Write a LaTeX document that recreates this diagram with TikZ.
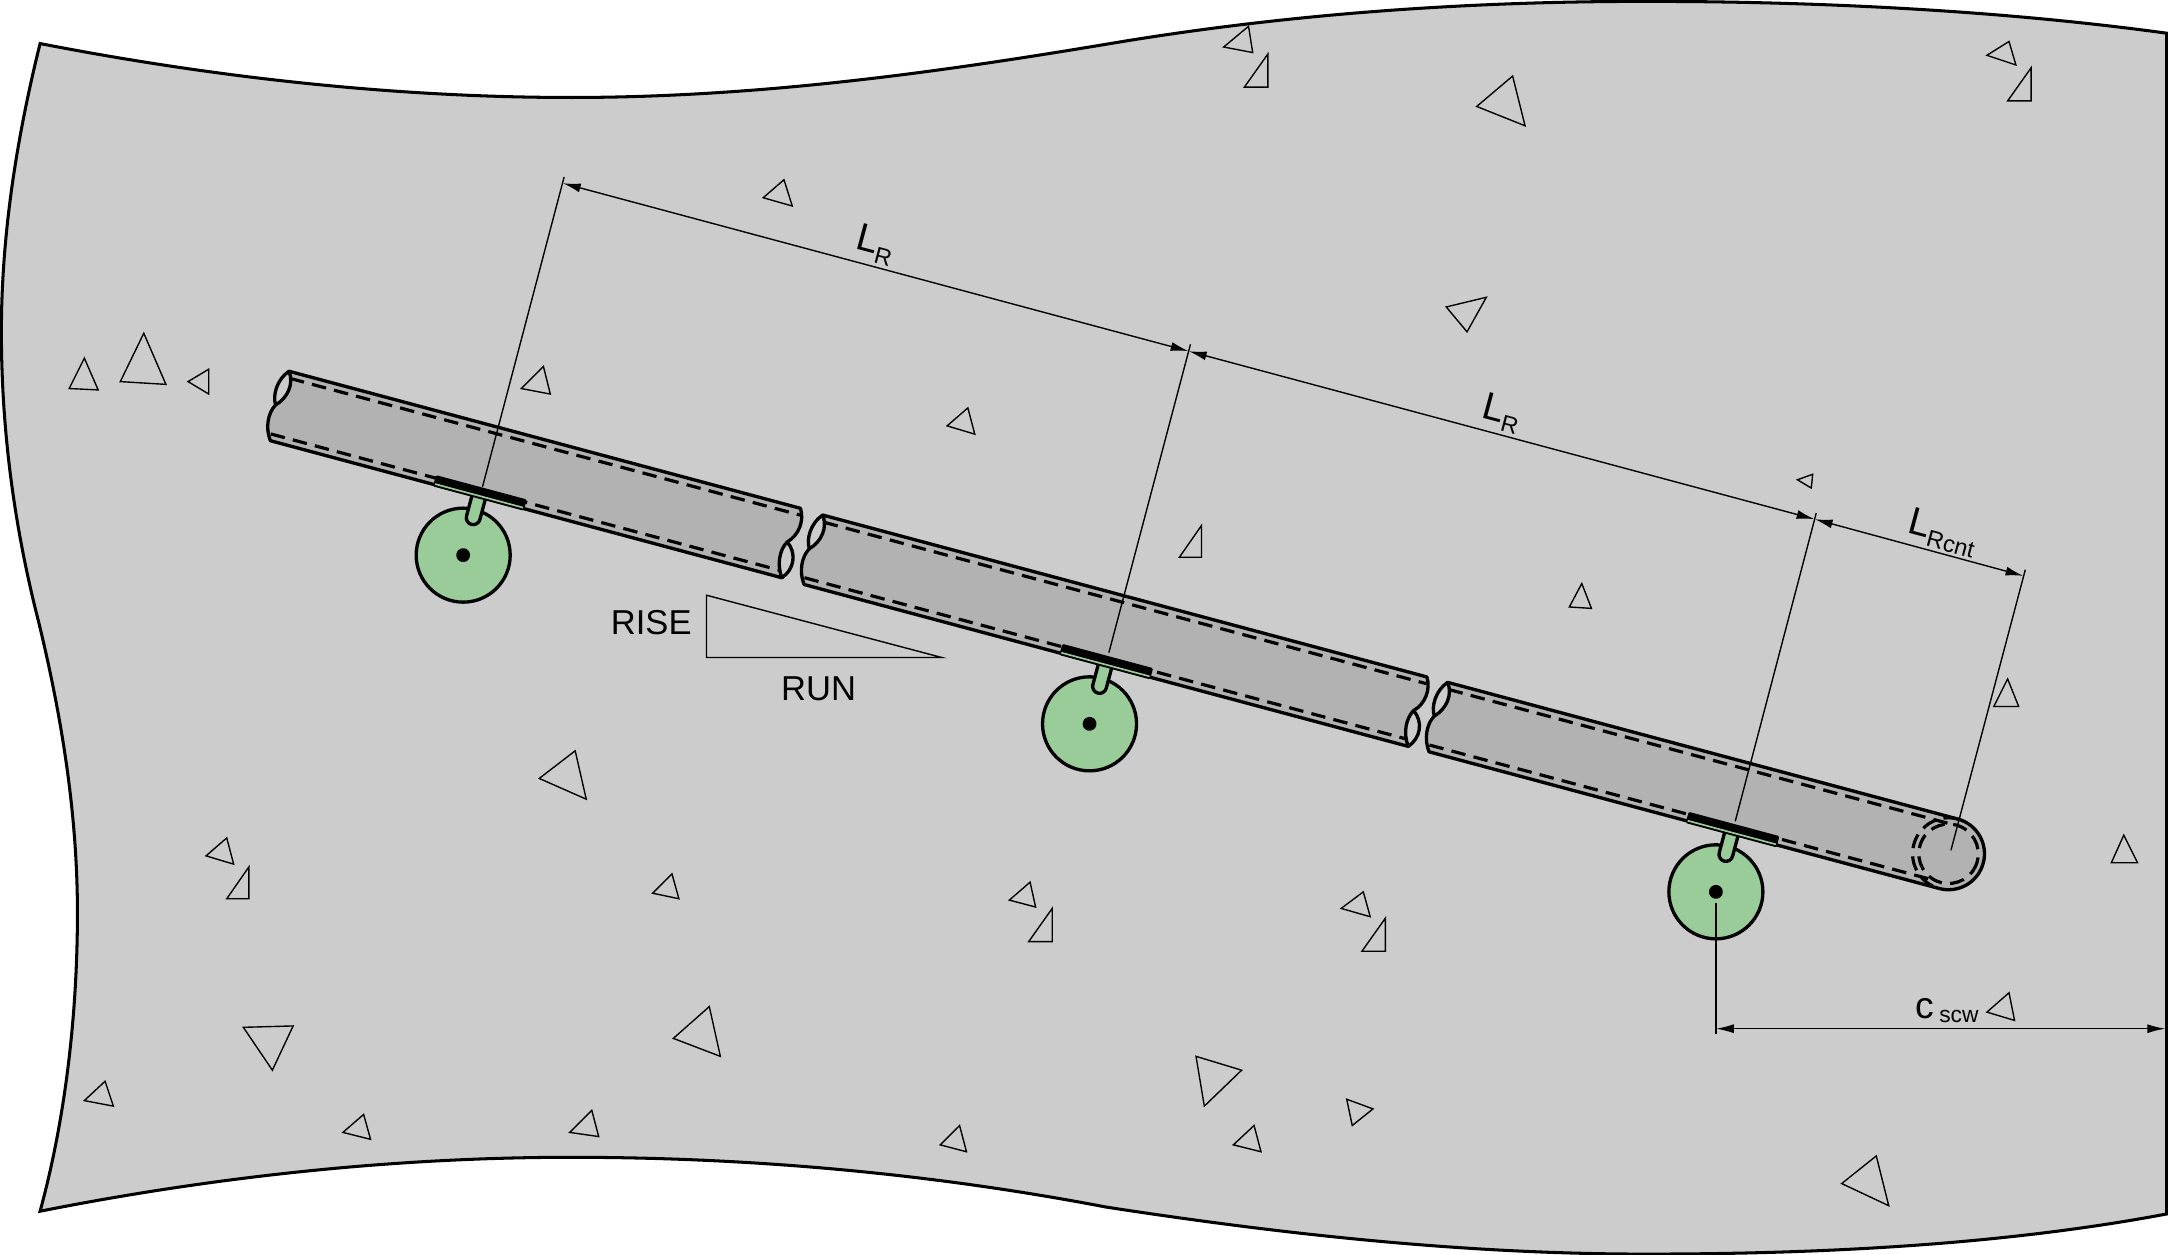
\documentclass[tikz,border=0pt]{standalone}
\usepackage{fontspec}
\setmainfont{Liberation Sans}
\usetikzlibrary{arrows.meta}
\definecolor{concrete}{HTML}{CCCCCC}
\definecolor{pipegray}{HTML}{B2B2B2}
\definecolor{anchorgreen}{HTML}{99CC99}
\newcommand{\mysub}[2]{{\fontsize{28}{28}\selectfont #1}\raisebox{-6pt}{\fontsize{17}{17}\selectfont #2}}
\newcommand{\stemanchor}[3]{%
\begin{scope}[shift={(#1,#2)},rotate=-15]
\node[anchordisc] (#3) at (0,0) {};
\fill[black] (0,0) circle[radius=5];
\draw[heavy,fill=anchorgreen,line join=round] (-5,-44) -- (-5,-28) arc[start angle=180,end angle=0,radius=5] -- (5,-44);
\fill[black,rounded corners=1pt] (-34,-50.8) rectangle (34,-42.4);
\draw[anchorgreen,line width=1.2] (-33,-44.4) -- (33,-44.4);
\end{scope}}
\newcommand{\wavepipe}[3]{%
\begin{scope}[shift={(#1,#2)},rotate=-15]
\filldraw[heavy,fill=pipegray,line join=round] (0,0) -- (#3,0)
 .. controls (#3+5,8) and (#3+4,19) .. (#3-3,26)
 .. controls (#3-7,33) and (#3-6,44) .. (#3,52) -- (0,52)
 .. controls (-6,44) and (-7,33) .. (-3,26)
 .. controls (4,19) and (6,8) .. (0,0) -- cycle;
\draw[heavy] (0,0) .. controls (-7,8) and (-7,20) .. (-3,26);
\draw[heavy] (#3,52) .. controls (#3+7,44) and (#3+6,32) .. (#3-3,26);
\draw[dashline] (2,4.8) -- (#3+1,4.8);
\draw[dashline] (-1,47.2) -- (#3-2,47.2);
\end{scope}}
\tikzset{
 heavy/.style={line width=2.4pt,black},
 thin line/.style={line width=1pt,black},
 dashline/.style={line width=2.3pt,black,dash pattern=on 10.5pt off 6pt},
 anchordisc/.style={circle,draw=black,fill=anchorgreen,line width=2.4pt,minimum size=68pt,inner sep=0pt},
 dimline/.style={line width=1pt,black,{Latex[length=13pt,width=6.5pt]}-{Latex[length=13pt,width=6.5pt]}},
 grain/.style={line width=1pt,black,line join=miter},
 lbl/.style={inner sep=0pt,font=\fontsize{25}{25}\selectfont}
}
\begin{document}
\begin{tikzpicture}[x=1pt,y=-1pt]
\path[use as bounding box,fill=white] (0,0) rectangle (1568,907.66);
% slab
\filldraw[line width=2.2pt,black,fill=concrete,line join=miter] (29,31.5)
 .. controls (160,57) and (290,70.5) .. (413,70.5)
 .. controls (550,70.5) and (680,52) .. (800,32)
 .. controls (930,10) and (1060,1) .. (1190,1)
 .. controls (1320,1) and (1450,8) .. (1567,24)
 -- (1567,878)
 .. controls (1450,900) and (1320,907) .. (1190,907)
 .. controls (1060,907) and (930,893) .. (800,873)
 .. controls (680,850) and (550,837) .. (413,837)
 .. controls (290,837) and (160,850) .. (29,876)
 .. controls (47,810) and (56,735) .. (56,660)
 .. controls (56,590) and (45,520) .. (28,450)
 .. controls (10,380) and (1,310) .. (1,240)
 .. controls (1,170) and (12,100) .. (29,31.5) -- cycle;
% aggregate
\foreach \a/\b/\c/\d/\e/\f in {
885/34/903/19/906/38, 900/63/917/63/917/39, 1068/77/1094/55/1103/91,
1437/40/1453/30/1458/47, 1452/73/1469/73/1469/49, 552/143/567/130/573/149,
1046/222/1075/215/1061/240, 50/281/71/282/61/259, 87/276/120/278/104/241,
136/276/151/267/151/285, 377/281/393/265/398/285, 685/308/700/295/705/314,
1300/347/1311/343/1310/353, 853/403/869/403/869/380, 1135/439/1151/440/1144/422,
1442/511/1460/511/1452/491, 390/563/416/543/424/578, 149/619/164/606/169/625,
164/650/180/650/180/627, 472/646/486/632/491/650, 730/651/745/638/749/656,
744/681/761/681/761/657, 970/657/986/645/991/663, 985/688/1002/688/1002/664,
1527/624/1546/624/1536/604, 487/751/513/728/521/764, 176/743/212/742/197/774,
61/796/76/782/82/800, 248/819/263/806/268/824, 412/819/428/803/433/822,
680/828/694/814/699/833, 892/828/907/814/912/833, 865/764/898/774/871/800,
974/795/993/802/978/814, 1332/856/1357/836/1366/872, 1437/732/1453/718/1457/738}
{\draw[grain] (\a,\b) -- (\c,\d) -- (\e,\f) -- cycle;}
% pipes
\wavepipe{209}{268.5}{383}
\wavepipe{595}{372.5}{452.4}
\begin{scope}[shift={(1047,493.5)},rotate=-15]
\filldraw[heavy,fill=pipegray,line join=round] (0,0) -- (382,0) arc[start angle=-90,end angle=90,radius=26] -- (0,52)
 .. controls (-6,44) and (-7,33) .. (-3,26)
 .. controls (4,19) and (6,8) .. (0,0) -- cycle;
\draw[heavy] (0,0) .. controls (-7,8) and (-7,20) .. (-3,26);
\draw[dashline] (2,4.8) -- (378,4.8);
\draw[dashline] (-1,47.2) -- (374,47.2);
\draw[dashline] (382,26) circle[radius=21.5];
\draw[dashline] (382,0) arc[start angle=-90,end angle=-270,radius=26];
\end{scope}
% anchors
\stemanchor{335}{401.5}{ancA}
\stemanchor{788}{523.5}{ancB}
\stemanchor{1241}{645}{ancC}
% slope triangle
\draw[thin line,line join=miter] (511,430.5) -- (511,475.5) -- (681,475.5) -- cycle;
\node[lbl] (rise) at (471,450.5) {RISE};
\node[lbl] (run) at (592,498) {RUN};
% dimensions
\coordinate (da) at (407,132.5);
\coordinate (db) at (859.7,254);
\coordinate (dc) at (1312.4,375.5);
\coordinate (dd) at (1463.5,416.5);
\coordinate (ea) at (408,128);
\coordinate (fa) at (349,352);
\coordinate (eb) at (861,249);
\coordinate (fb) at (802,472);
\coordinate (ec) at (1313.6,371);
\coordinate (fc) at (1255,594);
\coordinate (ed) at (1464.8,412);
\coordinate (fd) at (1411,615);
\draw[thin line] (ea) -- (fa);
\draw[thin line] (eb) -- (fb);
\draw[thin line] (ec) -- (fc);
\draw[thin line] (ed) -- (fd);
\draw[dimline] (da) -- (db);
\draw[dimline] (db) -- (dc);
\draw[dimline] (dc) -- (dd);
\node[inner sep=0pt,rotate=-15] (lr1) at (633,177) {\mysub{L}{R}};
\node[inner sep=0pt,rotate=-15] (lr2) at (1086,299) {\mysub{L}{R}};
\node[inner sep=0pt,rotate=-15] (lr3) at (1405,385) {\mysub{L}{Rcnt}};
\coordinate (ce) at (1241,653);
\coordinate (cf) at (1241,748);
\coordinate (cg) at (1241,744);
\coordinate (ch) at (1566,744);
\draw[thin line] (ce) -- (cf);
\draw[dimline] (cg) -- (ch);
\node[inner sep=0pt] (csc) at (1408,731) {{\fontsize{27}{27}\selectfont c}\raisebox{-3pt}{\hspace{4pt}\fontsize{16.5}{16.5}\selectfont scw}};
\end{tikzpicture}
\end{document}
